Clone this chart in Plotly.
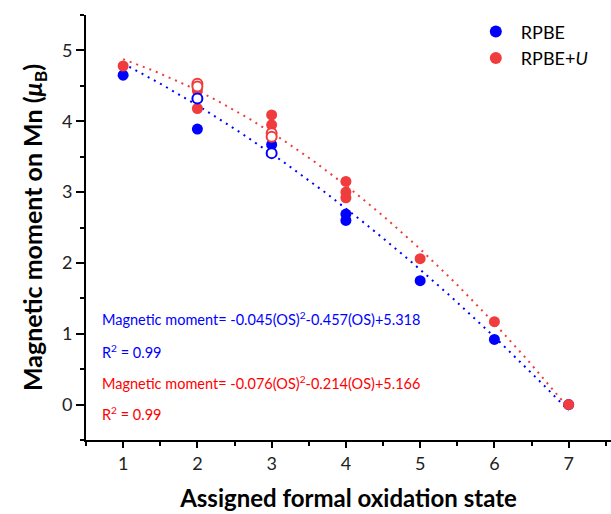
import numpy as np
import plotly.graph_objects as go

# ---- data ----
rpbe_x = [1, 2, 3, 4, 4, 5, 6, 7]
rpbe_y = [4.65, 3.89, 3.67, 2.69, 2.60, 1.75, 0.92, 0.0]
rpbe_open_x = [2, 3]
rpbe_open_y = [4.32, 3.55]

rpbeu_x = [1, 2, 2, 3, 3, 4, 4, 4, 5, 6, 7]
rpbeu_y = [4.78, 4.43, 4.18, 4.09, 3.95, 3.15, 3.00, 2.92, 2.06, 1.17, 0.0]
rpbeu_open_x = [2, 2, 3, 3]
rpbeu_open_y = [4.53, 4.49, 3.83, 3.78]

# quadratic fit coefficients shown on the chart (a, b, c)
fit_rpbe = [-0.045, -0.457, 5.318]
fit_rpbeu = [-0.076, -0.214, 5.166]
fit_range = [1, 7]

x_ticks = [1, 2, 3, 4, 5, 6, 7]
y_ticks = [0, 1, 2, 3, 4, 5]

BLUE = "#0000FF"
RED = "#F03C3C"
FONT = "Lato"

xf = np.linspace(fit_range[0], fit_range[1], 200)

fig = go.Figure()

# fit lines
for coef, col in [(fit_rpbe, BLUE), (fit_rpbeu, RED)]:
    fig.add_trace(go.Scatter(
        x=xf, y=np.polyval(coef, xf), mode="lines",
        line=dict(color=col, width=2, dash="2px,5px"),
        showlegend=False, hoverinfo="skip"))

fig.add_trace(go.Scatter(x=rpbe_x, y=rpbe_y, mode="markers", name="RPBE",
                         marker=dict(color=BLUE, size=11, line=dict(width=0))))
fig.add_trace(go.Scatter(x=rpbeu_x, y=rpbeu_y, mode="markers", name="RPBE+<i>U</i>",
                         marker=dict(color=RED, size=11, line=dict(width=0))))
fig.add_trace(go.Scatter(x=rpbe_open_x, y=rpbe_open_y, mode="markers", showlegend=False,
                         marker=dict(color="white", size=10, line=dict(color=BLUE, width=2))))
fig.add_trace(go.Scatter(x=rpbeu_open_x, y=rpbeu_open_y, mode="markers", showlegend=False,
                         marker=dict(color="white", size=10, line=dict(color=RED, width=2))))

ann = [
    ("Magnetic moment= -0.045(OS)<sup>2</sup>-0.457(OS)+5.318", 0.287, "#0000FF"),
    ("R<sup>2</sup> = 0.99", 0.209, "#0000FF"),
    ("Magnetic moment= -0.076(OS)<sup>2</sup>-0.214(OS)+5.166", 0.136, "#FF0000"),
    ("R<sup>2</sup> = 0.99", 0.0635, "#FF0000"),
]
for txt, yy, col in ann:
    fig.add_annotation(text=txt, xref="paper", yref="paper", x=0.027, y=yy,
                       xanchor="left", yanchor="middle", showarrow=False,
                       font=dict(family=FONT, size=14.5, color=col))

axis_common = dict(showline=True, linewidth=2, linecolor="black", mirror=False,
                   ticks="outside", tickwidth=2, tickcolor="black",
                   showgrid=False, zeroline=False,
                   tickfont=dict(family=FONT, size=18, color="#222"))

fig.update_layout(
    width=611, height=514,
    margin=dict(l=86, r=0, t=15, b=74),
    paper_bgcolor="white", plot_bgcolor="white",
    font=dict(family=FONT),
    xaxis=dict(range=[0.5, 7.57], tickvals=x_ticks, ticklen=6,
               minor=dict(ticks="outside", dtick=0.5, tick0=0.5, ticklen=4, tickwidth=1.5, tickcolor="black"),
               title=dict(text="<b>Assigned formal oxidation state</b>",
                          font=dict(family=FONT, size=24, color="black"), standoff=18),
               **axis_common),
    yaxis=dict(range=[-0.5, 5.5], tickvals=y_ticks, ticklen=8,
               minor=dict(ticks="outside", dtick=0.5, tick0=0.5, ticklen=4, tickwidth=1.5, tickcolor="black"),
               title=dict(text="<b>Magnetic moment on Mn (<i>μ</i><sub>B</sub>)</b>",
                          font=dict(family=FONT, size=25, color="black"), standoff=12),
               **axis_common),
    legend=dict(x=0.733, y=1.004, xanchor="left", yanchor="top",
                bgcolor="rgba(0,0,0,0)", font=dict(family=FONT, size=18, color="black"),
                itemsizing="constant", itemwidth=40, tracegroupgap=0),
)

fig.write_html("out.html")
